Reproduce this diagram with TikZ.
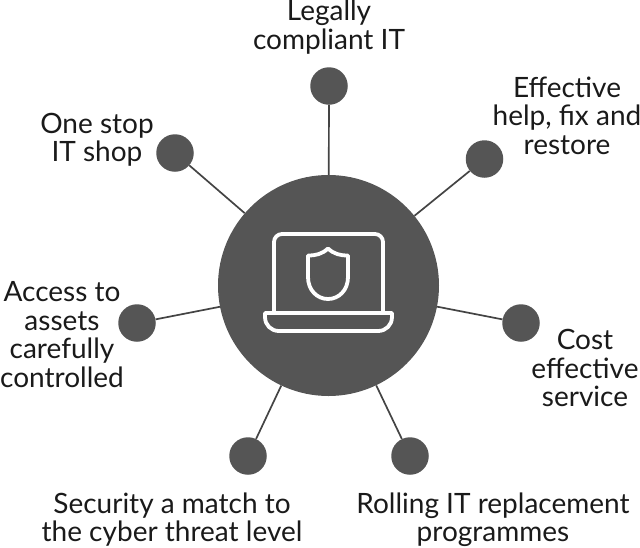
\documentclass[tikz,border=0pt]{standalone}
\usepackage{fontspec}
\setmainfont{Lato}
\definecolor{hubgray}{HTML}{555555}
\definecolor{spokegray}{HTML}{444444}
\definecolor{textgray}{HTML}{1A1A1A}
\tikzset{
  x=1pt,y=-1pt,
  hub/.style={circle,fill=hubgray,draw=none,minimum size=221pt,inner sep=0pt},
  sat/.style={circle,fill=hubgray,draw=none,minimum size=37.5pt,inner sep=0pt},
  spoke/.style={draw=spokegray,line width=1.7pt},
  lbl/.style={text=textgray,align=center,inner sep=0pt,font=\fontsize{28}{28.4}\selectfont},
  icon/.style={draw=white,line width=3.8pt,line join=round}
}
\begin{document}
\begin{tikzpicture}
\useasboundingbox (0,0) rectangle (640,547);
\node[hub] (hub) at (328.5,285.5) {};
\node[sat] (s1) at (329,86) {};
\node[sat] (s2) at (484.5,159) {};
\node[sat] (s3) at (521,323) {};
\node[sat] (s4) at (410,456) {};
\node[sat] (s5) at (248,456) {};
\node[sat] (s6) at (137,323) {};
\node[sat] (s7) at (175,153) {};
\foreach \s in {s1,s2,s3,s4,s5,s6,s7} \draw[spoke] (hub) -- (\s);
% laptop icon
\draw[icon,rounded corners=8pt] (274,311) -- (274,234) -- (383,234) -- (383,311);
\draw[icon] (265,313) -- (392,313) -- (392,317) .. controls (392,325) and (386,331) .. (378,331) -- (279,331) .. controls (271,331) and (265,325) .. (265,317) -- cycle;
\draw[icon] (328,248.5) .. controls (322,254) and (316,255.5) .. (308,255.5) -- (308,277) .. controls (308,290) and (317,299) .. (328,299) .. controls (339,299) and (348,290) .. (348,277) -- (348,255.5) .. controls (340,255.5) and (334,254) .. (328,248.5) -- cycle;
% labels
\node[lbl] (l1) at (329,27) {Legally\\compliant IT};
\node[lbl] (l2) at (567,115.5) {Effective\\help, fix and\\restore};
\node[lbl] (l3) at (585,368) {Cost\\effective\\service};
\node[lbl] (l4) at (493,519.5) {Rolling IT replacement\\programmes};
\node[lbl] (l5) at (172,519.5) {Security a match to\\the cyber threat level};
\node[lbl] (l6) at (62,334.5) {Access to\\assets\\carefully\\controlled};
\node[lbl] (l7) at (97,139.5) {One stop\\IT shop};
\end{tikzpicture}
\end{document}
